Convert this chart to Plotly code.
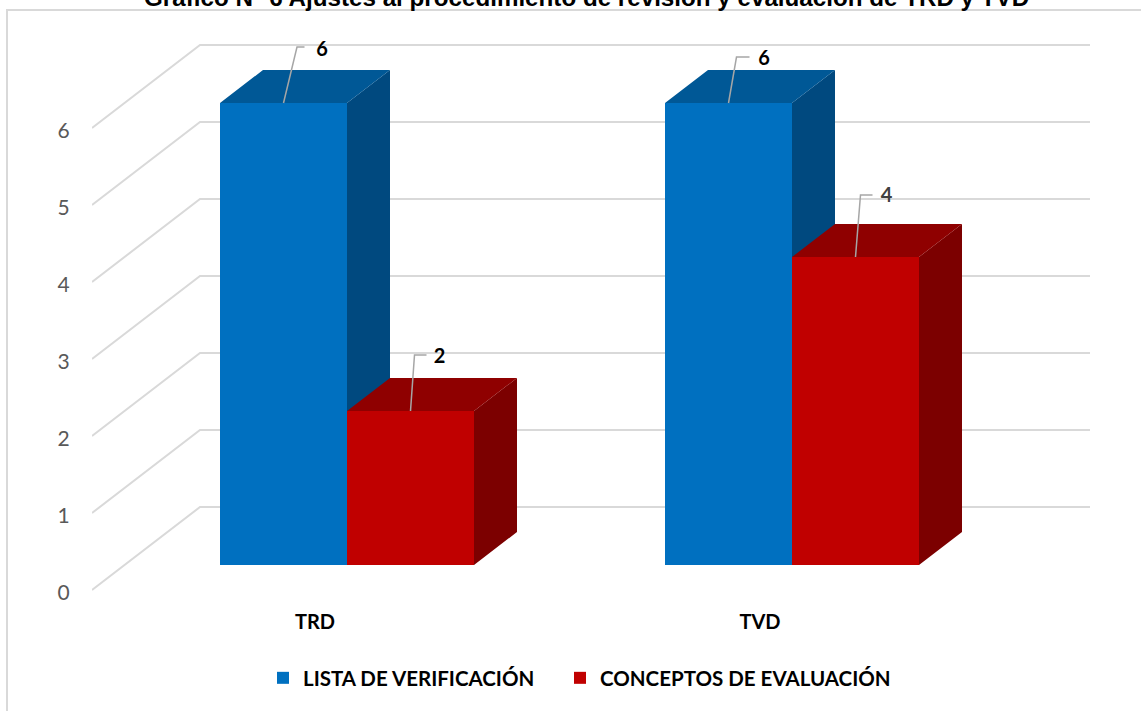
import plotly.graph_objects as go

categories = ["TRD", "TVD"]
series_names = ["LISTA DE VERIFICACIÓN", "CONCEPTOS DE EVALUACIÓN"]
lista_values = [6, 6]
conceptos_values = [2, 4]
y_ticks = [0, 1, 2, 3, 4, 5, 6]
title_text = "Gráfico N° 6 Ajustes al procedimiento de revisión y evaluación de TRD y TVD"

# --- styling / scale constants ---
W, H = 1141, 711
L, T, R, B = 92, 0, 0, 111           # plot margins
PX_X, PX_Y = 445.0, 77.0             # pixels per category, pixels per unit
X0_PX, Y0_PX = 347.0, 565.0          # pixel position of x=0 and y=0 on the bars' plane
BAR_W = 127.0 / PX_X
DX, DY = 43.0 / PX_X, 33.0 / PX_Y    # depth of the 3D effect
BACK_DY = (565 - 507) / PX_Y         # back wall rise
FRONT_DY = (565 - 590) / PX_Y        # axis plane drop
LABEL_DY = -2.5 / PX_Y               # tick labels sit slightly below the line ends
BACK_L = (200 - X0_PX) / PX_X
BACK_R = (1090 - X0_PX) / PX_X
FRONT_L = (92 - X0_PX) / PX_X
X_RANGE = [(L - X0_PX) / PX_X, (W - R - X0_PX) / PX_X]
Y_RANGE = [(Y0_PX - (H - B)) / PX_Y, (Y0_PX - T) / PX_Y]
GRID = "#d9d9d9"
FONT = "Lato"
BLUE = ("#0070C0", "#005896", "#00497F")
RED = ("#C00000", "#8F0000", "#7C0000")
# leader line bends: (dx1, dy1, dx2) in pixels from bar top centre; label offset (dx, dy)
LEADERS = [
    ("lista", 0, (13.5, 56, 21), (38.5, 52), "#000000"),
    ("lista", 1, (8, 46, 21), (35.5, 43), "#000000"),
    ("conceptos", 0, (4, 56, 16), (29, 53), "#000000"),
    ("conceptos", 1, (5, 62, 17), (31, 60), "#404040"),
]


def paper_x(p):
    return (p - L) / (W - L - R)


def paper_y(p):
    return 1 - (p - T) / (H - T - B)


def faces(i, values):
    """top and side polygons of the bars of one series"""
    top_x, top_y, side_x, side_y = [], [], [], []
    for c, v in enumerate(values):
        x0 = c + (i - 1) * BAR_W
        x1 = x0 + BAR_W
        top_x += [x0, x1, x1 + DX, x0 + DX, x0, None]
        top_y += [v, v, v + DY, v + DY, v, None]
        side_x += [x1, x1 + DX, x1 + DX, x1, x1, None]
        side_y += [0, DY, v + DY, v, 0, None]
    return top_x, top_y, side_x, side_y


fig = go.Figure()

# gridlines: back wall and diagonal side wall
gx, gy = [], []
for v in y_ticks:
    gx += [FRONT_L, BACK_L, BACK_R, None]
    gy += [v + FRONT_DY, v + BACK_DY, v + BACK_DY, None]
fig.add_trace(go.Scatter(x=gx, y=gy, mode="lines", line=dict(color=GRID, width=2),
                         showlegend=False, hoverinfo="skip", cliponaxis=False))

# blue depth faces live on the lower subplot so the red bars can cover them
tx, ty, sx, sy = faces(0, lista_values)
fig.add_trace(go.Scatter(x=sx, y=sy, fill="toself", mode="none", fillcolor=BLUE[2],
                         showlegend=False, hoverinfo="skip"))
fig.add_trace(go.Scatter(x=tx, y=ty, fill="toself", mode="none", fillcolor=BLUE[1],
                         showlegend=False, hoverinfo="skip"))

# front faces
fig.add_trace(go.Bar(x=list(range(len(categories))), y=lista_values, name=series_names[0],
                     width=BAR_W, offset=-BAR_W, marker=dict(color=BLUE[0], line_width=0),
                     xaxis="x2", yaxis="y2", legend="legend"))
fig.add_trace(go.Bar(x=list(range(len(categories))), y=conceptos_values, name=series_names[1],
                     width=BAR_W, offset=0, marker=dict(color=RED[0], line_width=0),
                     xaxis="x2", yaxis="y2", legend="legend2"))

# red depth faces
tx, ty, sx, sy = faces(1, conceptos_values)
fig.add_trace(go.Scatter(x=sx, y=sy, fill="toself", mode="none", fillcolor=RED[2],
                         showlegend=False, hoverinfo="skip", xaxis="x2", yaxis="y2"))
fig.add_trace(go.Scatter(x=tx, y=ty, fill="toself", mode="none", fillcolor=RED[1],
                         showlegend=False, hoverinfo="skip", xaxis="x2", yaxis="y2"))

# leader lines and value labels
data = {"lista": (0, lista_values), "conceptos": (1, conceptos_values)}
for key, c, (d1, h, d2), (lx, ly), col in LEADERS:
    i, vals = data[key]
    v = vals[c]
    xc = c + (i - 0.5) * BAR_W
    fig.add_trace(go.Scatter(
        x=[xc, xc + d1 / PX_X, xc + d2 / PX_X],
        y=[v, v + h / PX_Y, v + h / PX_Y],
        mode="lines", line=dict(color="#a6a6a6", width=1.5),
        showlegend=False, hoverinfo="skip", xaxis="x2", yaxis="y2"))
    fig.add_trace(go.Scatter(
        x=[xc + lx / PX_X], y=[v + ly / PX_Y], mode="text", text=[str(v)],
        textposition="middle center",
        textfont=dict(family=FONT, size=20, color=col, weight="bold"),
        showlegend=False, hoverinfo="skip", xaxis="x2", yaxis="y2"))

axis_common = dict(showgrid=False, zeroline=False, showline=False)
legend_common = dict(orientation="h", xanchor="left", y=paper_y(678), yanchor="middle",
                     font=dict(family=FONT, size=20.5, color="#000000", weight="bold"),
                     itemsizing="constant", bgcolor="rgba(0,0,0,0)")
fig.update_layout(
    width=W, height=H,
    margin=dict(l=L, r=R, t=T, b=B, pad=0),
    paper_bgcolor="white", plot_bgcolor="rgba(0,0,0,0)",
    showlegend=True,
    font=dict(family=FONT),
    xaxis=dict(range=X_RANGE, fixedrange=True,
               tickmode="array",
               tickvals=[c - 32 / PX_X for c in range(len(categories))],
               ticktext=categories,
               tickfont=dict(family=FONT, size=20, color="#000000", weight="bold"),
               ticks="outside", ticklen=4, tickcolor="rgba(0,0,0,0)", **axis_common),
    yaxis=dict(range=Y_RANGE, fixedrange=True,
               tickmode="array",
               tickvals=[v + FRONT_DY + LABEL_DY for v in y_ticks],
               ticktext=[str(v) for v in y_ticks],
               tickfont=dict(family=FONT, size=21, color="#595959"),
               ticks="outside", ticklen=17, tickcolor="rgba(0,0,0,0)", **axis_common),
    xaxis2=dict(range=X_RANGE, overlaying="x", visible=False, fixedrange=True),
    yaxis2=dict(range=Y_RANGE, overlaying="y", visible=False, fixedrange=True),
    legend=dict(x=paper_x(263), **legend_common),
    legend2=dict(x=paper_x(560), **legend_common),
    shapes=[dict(type="rect", xref="paper", yref="paper", layer="below",
                 x0=paper_x(7), x1=paper_x(W + 10), y0=paper_y(H + 10), y1=paper_y(10),
                 line=dict(color=GRID, width=2), fillcolor="rgba(0,0,0,0)")],
    annotations=[dict(text="<b>" + title_text + "</b>", xref="paper", yref="paper",
                      x=paper_x(586), xanchor="center", y=paper_y(-3), yanchor="middle",
                      showarrow=False,
                      font=dict(family="Liberation Sans", size=24.2, color="#000000"))],
)

fig.write_html("out.html", config={"displayModeBar": False},
               post_script="document.body.style.margin='0';document.body.style.overflow='hidden';")
